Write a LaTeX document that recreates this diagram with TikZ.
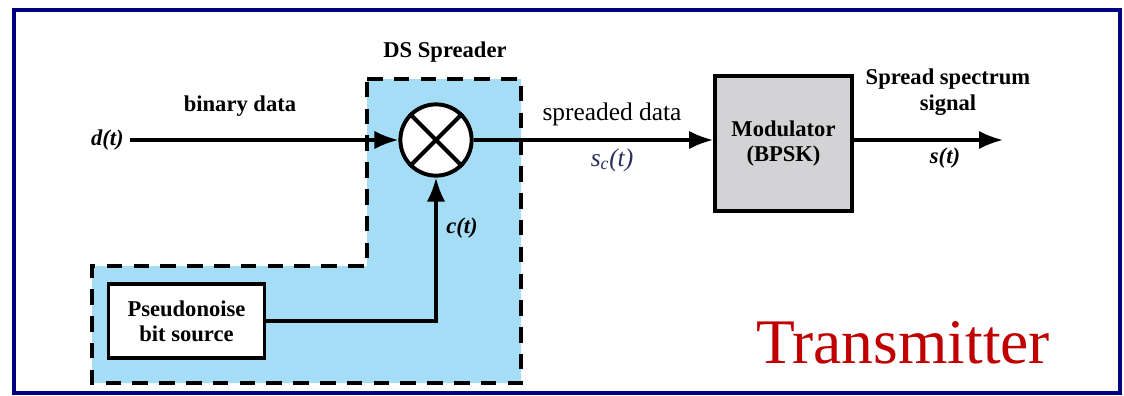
\documentclass[tikz,border=0pt]{standalone}
\usepackage{fontspec}
\setmainfont{Liberation Serif}[
  BoldFont={Liberation Serif Bold},
  ItalicFont={Liberation Serif Italic},
  BoldItalicFont={Liberation Serif Bold Italic}]
\usetikzlibrary{arrows.meta,positioning}

\definecolor{frameblue}{RGB}{0,0,128}
\definecolor{spreadblue}{RGB}{165,221,246}
\definecolor{modgray}{RGB}{211,211,213}
\definecolor{txred}{RGB}{192,0,0}
\definecolor{sigblue}{RGB}{40,45,90}

\tikzset{
  lbl/.style={font=\fontsize{16}{18}\selectfont\bfseries},
  siglbl/.style={font=\fontsize{16}{18}\selectfont\bfseries\itshape},
  blockbox/.style={draw, rectangle, align=center, inner sep=0pt,
    font=\fontsize{16}{18}\selectfont\bfseries},
}

\begin{document}
\begin{tikzpicture}[x=0.7087pt, y=-0.7087pt, line width=2.2pt,
  >={Latex[length=17pt,width=13pt]}]

\useasboundingbox (0,0) rectangle (1124,395);
\fill[white] (0,0) rectangle (1124,395);
\draw[frameblue, line width=2.2pt] (14,10) rectangle (1120,393);

% DS spreader region
\fill[spreadblue] (367,79) -- (521,79) -- (521,383) -- (92,383) -- (92,266) -- (367,266) -- cycle;
\draw[line width=2.4pt, dash pattern=on 11pt off 8pt]
  (367,79) -- (521,79) -- (521,383) -- (92,383) -- (92,266) -- (367,266) -- cycle;
\node[lbl] at (445,52) {DS Spreader};

% blocks
\node[draw, circle, fill=white, minimum size=50.5pt, inner sep=0pt, line width=2.8pt] (mult) at (436,140) {};
\draw[line width=2.8pt] (mult.north west) -- (mult.south east);
\draw[line width=2.8pt] (mult.north east) -- (mult.south west);
\node[blockbox, fill=modgray, minimum width=97pt, minimum height=95.7pt, line width=2.8pt] (mod) at (783.5,143.5) {Modulator\\(BPSK)};
\node[blockbox, fill=white, minimum width=111pt, minimum height=52.4pt] (pn) at (186.5,321) {Pseudonoise\\bit source};

% connectors
\coordinate (din) at (130,140);
\coordinate (sout) at (1003,140);
\draw[->] (din) -- (mult.west);
\draw[->] (mult.east) -- (mult.east -| mod.west);
\draw[->] (mod.east |- mult) -- (sout);
\draw[->] (pn.east) -| (mult.south);

% labels
\node[siglbl, left=0pt of din] {d(t)};
\node[lbl] at (240,106) {binary data};
\node[font=\fontsize{18}{20}\selectfont] at (612,114) {spreaded data};
\node[font=\fontsize{18}{20}\selectfont\itshape, text=sigblue] at (612,160) {s\textsubscript{c}(t)};
\node[lbl, align=center] at (948,92) {Spread spectrum\\signal};
\node[siglbl] at (945,158) {s(t)};
\node[siglbl] at (462,228) {c(t)};
\node[font=\fontsize{45}{50}\selectfont, text=txred] at (903,343) {Transmitter};

\end{tikzpicture}
\end{document}
